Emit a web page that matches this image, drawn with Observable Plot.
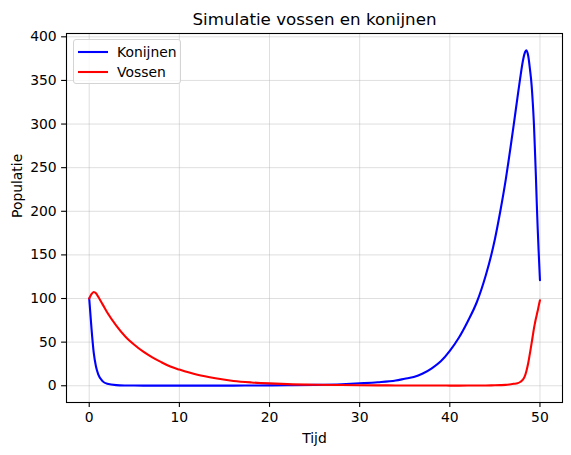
<!DOCTYPE html>
<html>
<head>
<meta charset="utf-8">
<script src="https://cdn.jsdelivr.net/npm/d3@7"></script>
<script src="https://cdn.jsdelivr.net/npm/@observablehq/plot@0.6"></script>
<style>
  html, body { margin: 0; padding: 0; background: #fff; }
  #wrap { position: relative; width: 571px; height: 455px; font-family: "DejaVu Sans", sans-serif; }
  #legend { position: absolute; left: 73px; top: 39px; width: 108px; height: 45px;
    border: 1px solid #d4d4d4; border-radius: 3px; background: rgba(255,255,255,0.8); box-sizing: border-box; }
  .item { position: absolute; left: 0; height: 18px; font-size: 13.9px; color: #000; }
  .item svg { position: absolute; left: 3px; top: 0; }
  .item span { position: absolute; left: 43px; top: 0px; white-space: nowrap; line-height: 18px; }
</style>
</head>
<body>
<div id="wrap"></div>
<script>
const tijd = [0, 0.25, 0.5, 0.75, 1, 1.5, 2, 3, 4, 5, 6, 7, 8, 9, 10, 12, 14, 16, 18, 20, 22, 25, 28, 30, 32, 34, 35, 36, 37, 38, 39, 40, 41, 42, 43, 44, 44.6, 45, 45.6, 46.2, 46.8, 47.1, 47.5, 47.8, 48.1, 48.3, 48.5, 48.7, 48.9, 49.07, 49.2, 49.33, 49.45, 49.55, 49.65, 49.75, 49.85, 50];
const konijnen = [100, 66, 38, 22, 13, 5, 2.2, 0.7, 0.35, 0.25, 0.2, 0.18, 0.16, 0.15, 0.15, 0.15, 0.17, 0.2, 0.3, 0.4, 0.6, 1.0, 1.8, 2.8, 4, 6, 8, 10, 14, 20, 28, 40, 55, 74, 96, 127, 150, 168, 200, 236, 278, 300, 330, 352, 372, 381, 384.5, 378, 362, 345, 325, 300, 268, 240, 208, 180, 155, 121];
const vossen = [100, 105, 107.5, 106, 102, 93, 84, 69, 56.5, 47, 39, 32.5, 27, 22, 18.5, 12.5, 8.5, 5.5, 3.8, 2.7, 1.9, 1.2, 0.8, 0.6, 0.45, 0.35, 0.3, 0.28, 0.26, 0.24, 0.22, 0.2, 0.2, 0.22, 0.25, 0.3, 0.4, 0.5, 0.7, 1.0, 1.8, 2.2, 2.8, 4.3, 7, 10.5, 17, 26, 38, 48.5, 57, 65.5, 72, 77, 81.5, 86, 91, 98];
const xTicks = [0, 10, 20, 30, 40, 50];
const yTicks = [0, 50, 100, 150, 200, 250, 300, 350, 400];
const seriesNames = ["Konijnen", "Vossen"];
const seriesColors = ["#0000ff", "#ff0000"];
const titel = "Simulatie vossen en konijnen";
const xLabel = "Tijd";
const yLabel = "Populatie";

const rows = [];
tijd.forEach((t, i) => {
  rows.push({t, v: konijnen[i], s: seriesNames[0]});
});
tijd.forEach((t, i) => {
  rows.push({t, v: vossen[i], s: seriesNames[1]});
});

const FONT = "DejaVu Sans";
const plot = Plot.plot({
  width: 571,
  height: 455,
  marginLeft: 66,
  marginRight: 9,
  marginTop: 33,
  marginBottom: 53,
  style: {fontFamily: FONT, fontSize: "13.9px", color: "#000", background: "#fff"},
  x: {domain: [-2.52, 52.5], label: null},
  y: {domain: [-19.2, 403.8], label: null},
  color: {domain: seriesNames, range: seriesColors},
  marks: [
    Plot.gridX(xTicks, {stroke: "#b0b0b0", strokeOpacity: 0.4, strokeWidth: 1}),
    Plot.gridY(yTicks, {stroke: "#b0b0b0", strokeOpacity: 0.4, strokeWidth: 1}),
    Plot.axisX({ticks: xTicks, tickSize: 4.9, tickPadding: 4.9, label: null, stroke: "#000", strokeWidth: 1.1, fontSize: 13.9, fontFamily: FONT}),
    Plot.axisY({ticks: yTicks, tickSize: 4.9, tickPadding: 4.9, label: null, stroke: "#000", strokeWidth: 1.1, fontSize: 13.9, fontFamily: FONT}),
    Plot.line(rows, {x: "t", y: "v", z: "s", stroke: "s", strokeWidth: 2.1, curve: "monotone-x"}),
    Plot.frame({stroke: "#000", strokeWidth: 1.1}),
    Plot.text([titel], {frameAnchor: "top", lineAnchor: "bottom", dy: -8.5, fontSize: 16.7, fontFamily: FONT, fill: "#000"}),
    Plot.text([xLabel], {frameAnchor: "bottom", lineAnchor: "top", dy: 31, fontSize: 13.9, fontFamily: FONT, fill: "#000"}),
    Plot.text([yLabel], {frameAnchor: "left", dx: -49, rotate: -90, fontSize: 13.9, fontFamily: FONT, fill: "#000"})
  ]
});
const wrap = document.getElementById("wrap");
wrap.appendChild(plot);

const legend = document.createElement("div");
legend.id = "legend";
seriesNames.forEach((name, i) => {
  const item = document.createElement("div");
  item.className = "item";
  item.style.top = (2.5 + i * 20.7) + "px";
  item.style.width = "105px";
  item.innerHTML = `<svg width="32" height="18"><line x1="1" x2="31" y1="9" y2="9" stroke="${seriesColors[i]}" stroke-width="2.1"/></svg><span>${name}</span>`;
  legend.appendChild(item);
});
wrap.appendChild(legend);
</script>
</body>
</html>
